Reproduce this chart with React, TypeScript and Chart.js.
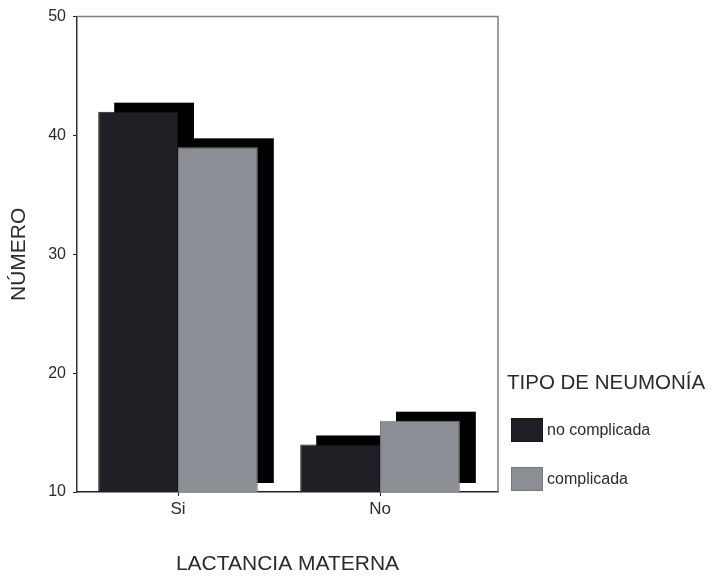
import React, { useEffect, useRef } from "react";
import { Chart, registerables } from "chart.js";

Chart.register(...registerables);

// Lactancia materna vs. tipo de neumonía
const categories = ["Si", "No"];
const seriesNames = ["no complicada", "complicada"];
const noComplicada = [42, 14];
const complicada = [39, 16];
const seriesColors = ["#1f2026", "#8c8e95"];
const seriesBorders = ["#16171c", "#77797f"];
const yTicks = [10, 20, 30, 40, 50];

const FONT = "'Liberation Sans', Arial, sans-serif";
const TEXT = "#2a2a32";

// black drop block behind each bar, shifted right and up
const shadowPlugin = {
  id: "barShadow",
  beforeDatasetsDraw(chart: any) {
    const { ctx, chartArea } = chart;
    ctx.save();
    // plot frame (top / right sides lighter)
    ctx.strokeStyle = "#808080";
    ctx.lineWidth = 1.5;
    ctx.beginPath();
    ctx.moveTo(chartArea.left, chartArea.top);
    ctx.lineTo(chartArea.right, chartArea.top);
    ctx.lineTo(chartArea.right, chartArea.bottom);
    ctx.stroke();
    ctx.fillStyle = "#000";
    chart.data.datasets.forEach((_: any, di: number) => {
      const meta = chart.getDatasetMeta(di);
      meta.data.forEach((bar: any) => {
        const { x, y, base, width } = bar.getProps(["x", "y", "base", "width"], true);
        const dx = 16;
        const dy = -9;
        const bottom = Math.min(base, chartArea.bottom);
        ctx.fillRect(x - width / 2 + dx, y + dy, width, bottom - y);
      });
    });
    ctx.restore();
  },
};

const legendPlugin = {
  id: "sideLegend",
  afterDraw(chart: any) {
    const { ctx } = chart;
    ctx.save();
    ctx.fillStyle = TEXT;
    ctx.textAlign = "left";
    ctx.textBaseline = "middle";
    ctx.font = `20.5px ${FONT}`;
    ctx.fillText("TIPO DE NEUMONÍA", 507, 383);
    const boxX = 511;
    const rows = [418, 467];
    chart.data.datasets.forEach((ds: any, i: number) => {
      const y = rows[i];
      ctx.fillStyle = ds.backgroundColor;
      ctx.fillRect(boxX, y, 32, 24);
      ctx.strokeStyle = ds.borderColor;
      ctx.lineWidth = 1;
      ctx.strokeRect(boxX + 0.5, y + 0.5, 31, 23);
      ctx.fillStyle = TEXT;
      ctx.font = `16px ${FONT}`;
      ctx.fillText(ds.label, 547, y + 13);
    });
    ctx.restore();
  },
};

export default function App() {
  const canvasRef = useRef<HTMLCanvasElement | null>(null);

  useEffect(() => {
    if (!canvasRef.current) return;
    const chart = new Chart(canvasRef.current, {
      type: "bar",
      data: {
        datasets: [
          {
            label: seriesNames[0],
            data: noComplicada.map((v, i) => ({ x: i, y: v })),
            backgroundColor: seriesColors[0],
            borderColor: seriesBorders[0],
            borderWidth: 1,
          },
          {
            label: seriesNames[1],
            data: complicada.map((v, i) => ({ x: i, y: v })),
            backgroundColor: seriesColors[1],
            borderColor: seriesBorders[1],
            borderWidth: 1,
          },
        ],
      },
      options: {
        animation: false,
        responsive: false,
        maintainAspectRatio: false,
        layout: { padding: { top: 13, right: 217, left: 0, bottom: 0 } },
        datasets: { bar: { categoryPercentage: 0.79, barPercentage: 1 } },
        plugins: { legend: { display: false }, tooltip: { enabled: false } },
        scales: {
          x: {
            type: "linear",
            min: -0.5,
            max: 1.584,
            offset: false,
            afterFit(scale: any) {
              scale.height = 87;
            },
            afterBuildTicks(scale: any) {
              scale.ticks = categories.map((_, i) => ({ value: i }));
            },
            ticks: {
              callback: (v: any) => categories[v] ?? "",
              font: { family: FONT, size: 17 },
              color: TEXT,
              padding: 3,
              maxRotation: 0,
            },
            grid: {
              offset: false,
              drawOnChartArea: false,
              drawTicks: true,
              tickLength: 4,
              color: "#222",
            },
            border: { color: "#222", width: 1.5 },
            title: {
              display: true,
              text: "LACTANCIA MATERNA",
              font: { family: FONT, size: 21 },
              color: TEXT,
              padding: { top: 0, bottom: 2 },
            },
          },
          y: {
            min: 10,
            max: 50,
            afterFit(scale: any) {
              scale.width = 77;
            },
            afterBuildTicks(scale: any) {
              scale.ticks = yTicks.map((v) => ({ value: v }));
            },
            ticks: {
              font: { family: FONT, size: 16 },
              color: TEXT,
              padding: 7,
            },
            grid: {
              drawOnChartArea: false,
              drawTicks: true,
              tickLength: 4,
              color: "#222",
            },
            border: { color: "#333", width: 1.5 },
            title: {
              display: true,
              text: "NÚMERO",
              font: { family: FONT, size: 21 },
              color: TEXT,
              padding: { top: 7, bottom: 0 },
            },
          },
        },
      },
      plugins: [shadowPlugin, legendPlugin],
    });
    return () => chart.destroy();
  }, []);

  return (
    <div style={{ position: "fixed", left: 0, top: 0, width: 715, height: 579, background: "#fff" }}>
      <canvas ref={canvasRef} width={715} height={579} style={{ width: 715, height: 579 }} />
    </div>
  );
}
